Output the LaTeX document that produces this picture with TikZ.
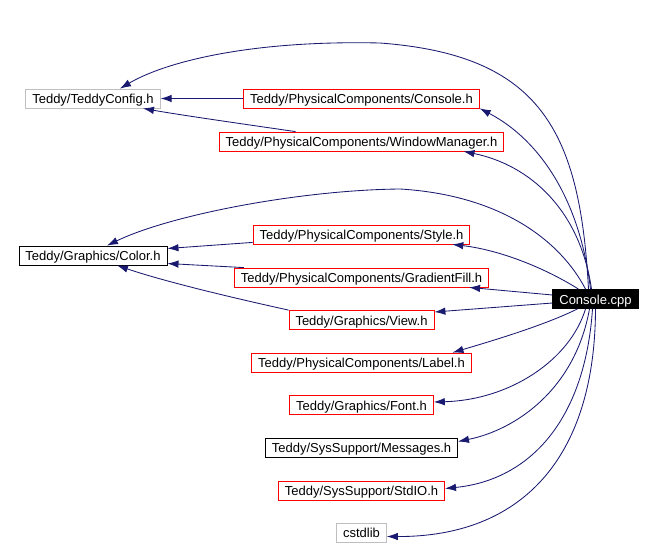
\documentclass[tikz,border=0pt]{standalone}
\usepackage{fontspec}
\setmainfont{Liberation Sans}
\usepackage{tikz}
\usetikzlibrary{arrows.meta,calc}
\definecolor{depblue}{RGB}{25,25,112}
\definecolor{boxgray}{RGB}{191,191,191}

\begin{document}
\begin{tikzpicture}[x=1pt,y=-1pt,
    file/.style={draw, line width=0.8pt, inner xsep=6.5pt, inner ysep=0pt,
        text height=12pt, text depth=1.6pt,
        minimum height=19pt, font=\fontsize{13}{14}\selectfont},
    redfile/.style={file, draw=red},
    grayfile/.style={file, draw=boxgray},
    blackfile/.style={file, draw=black},
    mainfile/.style={file, draw=black, fill=black, text=white},
    dep/.style={draw=depblue, line width=0.85pt, -{Latex[length=11pt,width=7.5pt]}}]
    \useasboundingbox (0,0) rectangle (654,549);

    % Headers on the left
    \node[grayfile] (cfg) at (93,98.5) {Teddy/TeddyConfig.h};
    \node[blackfile] (color) at (93,255.5) {Teddy/Graphics/Color.h};

    % Headers in the middle column
    \node[redfile] (con) at (361.5,98.5) {Teddy/PhysicalComponents/Console.h};
    \node[redfile] (wm) at (361.5,141.5) {Teddy/PhysicalComponents/WindowManager.h};
    \node[redfile] (style) at (361.5,234.5) {Teddy/PhysicalComponents/Style.h};
    \node[redfile] (grad) at (361.5,277.5) {Teddy/PhysicalComponents/GradientFill.h};
    \node[redfile] (view) at (361.5,320) {Teddy/Graphics/View.h};
    \node[redfile] (label) at (361.5,362.5) {Teddy/PhysicalComponents/Label.h};
    \node[redfile] (font) at (361.5,405) {Teddy/Graphics/Font.h};
    \node[blackfile] (msg) at (361.5,447.5) {Teddy/SysSupport/Messages.h};
    \node[redfile] (stdio) at (361.5,490.5) {Teddy/SysSupport/StdIO.h};
    \node[grayfile] (cstd) at (361.5,532.5) {cstdlib};

    % The source file
    \node[mainfile] (cpp) at (595.5,299) {Console.cpp};

    % Includes of the headers
    \draw[dep] (con.west) -- (cfg.east);
    \draw[dep] ($(wm.north)+(-66,0)$) .. controls (250,125) and (180,115) .. ($(cfg.south)+(50,0)$);
    \draw[dep] ($(style.south west)+(0,-2)$) -- ($(color.east)+(0,-7)$);
    \draw[dep] ($(grad.north west)+(10,0)$) -- ($(color.east)+(0,8)$);
    \draw[dep] (view.north west) .. controls (220,295) and (160,280) .. ($(color.south)+(24,0)$);

    % Includes of Console.cpp
    \draw[dep] ($(cpp.north)+(-7,0)$) .. controls (580,130) and (540,55) .. (380,43)
        .. controls (250,40) and (165,62) .. ($(cfg.north)+(27,0)$);
    \draw[dep] ($(cpp.north)+(-5,0)$) .. controls (580,200) and (540,140) .. (con.south east);
    \draw[dep] ($(cpp.north)+(-4,0)$) .. controls (580,210) and (530,165) .. ($(wm.south)+(102,0)$);
    \draw[dep] ($(cpp.north)+(-10,0)$) .. controls (560,240) and (500,195) .. (400,189)
        .. controls (300,190) and (170,215) .. ($(color.north)+(14,0)$);
    \draw[dep] ($(cpp.north)+(-17,0)$) .. controls (545,268) and (500,250) .. ($(style.south east)+(-18,0)$);
    \draw[dep] ($(cpp.west)+(0,-4)$) -- ($(grad.south east)+(-20,0)$);
    \draw[dep] ($(cpp.west)+(0,4)$) -- ($(view.east)+(0,-8)$);
    \draw[dep] ($(cpp.south)+(-18,0)$) .. controls (545,325) and (495,340) .. ($(label.north)+(91,0)$);
    \draw[dep] ($(cpp.south)+(-10,0)$) .. controls (570,360) and (510,400) .. ($(font.east)+(0,-3)$);
    \draw[dep] ($(cpp.south)+(-6,0)$) .. controls (575,390) and (515,430) .. ($(msg.east)+(0,-6)$);
    \draw[dep] ($(cpp.south)+(-3,0)$) .. controls (585,420) and (530,480) .. ($(stdio.east)+(0,-2)$);
    \draw[dep] (cpp.south) .. controls (595,460) and (520,537) .. ($(cstd.east)+(0,4)$);
\end{tikzpicture}
\end{document}
